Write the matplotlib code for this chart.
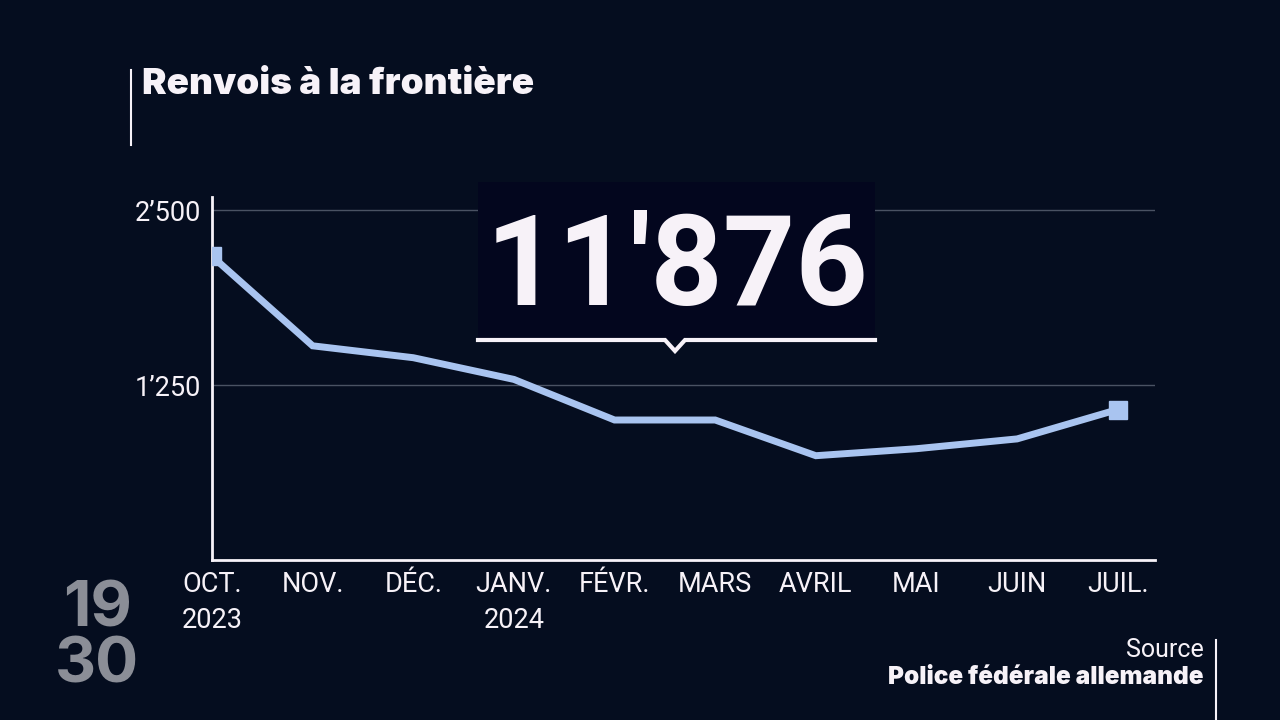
import matplotlib
matplotlib.use("Agg")
import matplotlib.pyplot as plt
from matplotlib import font_manager as fm
from matplotlib.lines import Line2D
from matplotlib.patches import Rectangle

months = ["OCT.\n2023", "NOV.", "DÉC.", "JANV.\n2024", "FÉVR.", "MARS", "AVRIL", "MAI", "JUIN", "JUIL."]
values = [2170, 1530, 1445, 1290, 1000, 1000, 745, 795, 865, 1075]
yticks = [1250, 2500]
ytick_labels = ["1’250", "2’500"]
total_label = "11'876"
title = "Renvois à la frontière"
source_head = "Source"
source_name = "Police fédérale allemande"

names = {f.name for f in fm.fontManager.ttflist}
narrow = "Liberation Sans Narrow" if "Liberation Sans Narrow" in names else "Roboto"
bold_font = "Inter" if "Inter" in names else "DejaVu Sans"

BG = "#050d1f"
LINE = "#a9c4f0"
WHITE = "#f7f2f8"

fig = plt.figure(figsize=(12.8, 7.2), dpi=100, facecolor=BG)
ax = fig.add_axes([212/1280, 1-560/720, (1155-212)/1280, (560-197)/720])
ax.set_facecolor(BG)

x = list(range(len(values)))
ax.plot(x, values, color=LINE, lw=5, solid_joinstyle="miter", zorder=3)
ax.plot([x[0], x[-1]], [values[0], values[-1]], ls="none", marker="s",
        ms=13, color=LINE, zorder=4)

ax.set_xlim(0, 9.37)
ax.set_ylim(0, 2593)
ax.set_yticks(yticks)
ax.set_yticklabels(ytick_labels)
ax.set_xticks(x)
ax.set_xticklabels(months)
for s in ["top", "right"]:
    ax.spines[s].set_visible(False)
for s in ["left", "bottom"]:
    ax.spines[s].set_color(WHITE)
    ax.spines[s].set_linewidth(2)
ax.grid(axis="y", color="#4a5263", lw=1)
ax.set_axisbelow(True)
ax.tick_params(axis="both", length=0, colors=WHITE, labelsize=19.5)
ax.tick_params(axis="y", pad=8)
ax.tick_params(axis="x", pad=8)
for lab in ax.get_xticklabels() + ax.get_yticklabels():
    lab.set_fontfamily(narrow)
    lab.set_color(WHITE)
for lab in ax.get_xticklabels():
    lab.set_linespacing(1.4)

# big total box
fig.patches.append(Rectangle((478/1280, 1-340/720), (875-478)/1280, (340-182)/720,
                             transform=fig.transFigure, facecolor="#03061e",
                             edgecolor="none", zorder=5))
bx = [478, 665, 675, 685, 875]
by = [340, 340, 351, 340, 340]
fig.add_artist(Line2D([v/1280 for v in bx], [1-v/720 for v in by], color=WHITE,
                      lw=3, transform=fig.transFigure, zorder=6, solid_joinstyle="miter"))
fig.text(677/1280, 1-270/720, total_label, ha="center", va="center",
         fontsize=91, fontweight="bold", family=narrow, color=WHITE, zorder=7)

# title
fig.add_artist(Line2D([131/1280, 131/1280], [1-70/720, 1-145/720], color=WHITE,
                      lw=1.5, transform=fig.transFigure))
fig.text(142/1280, 1-85/720, title, ha="left", va="center", fontsize=26.5,
         fontweight="black", family=bold_font, color=WHITE)

# logo
fig.text(97/1280, 1-638/720, "19\n30", ha="center", va="center", fontsize=46,
         fontweight="bold", family=bold_font, color="#8b8e97", linespacing=0.92)

# source
fig.add_artist(Line2D([1216/1280, 1216/1280], [1-640/720, 0], color=WHITE,
                      lw=1.5, transform=fig.transFigure))
fig.text(1204/1280, 1-650/720, source_head, ha="right", va="center", fontsize=18,
         family="Roboto", color=WHITE)
fig.text(1204/1280, 1-677/720, source_name, ha="right", va="center", fontsize=17.5,
         fontweight="black", family=bold_font, color=WHITE)

fig.savefig("out.png", dpi=100, facecolor=BG)
